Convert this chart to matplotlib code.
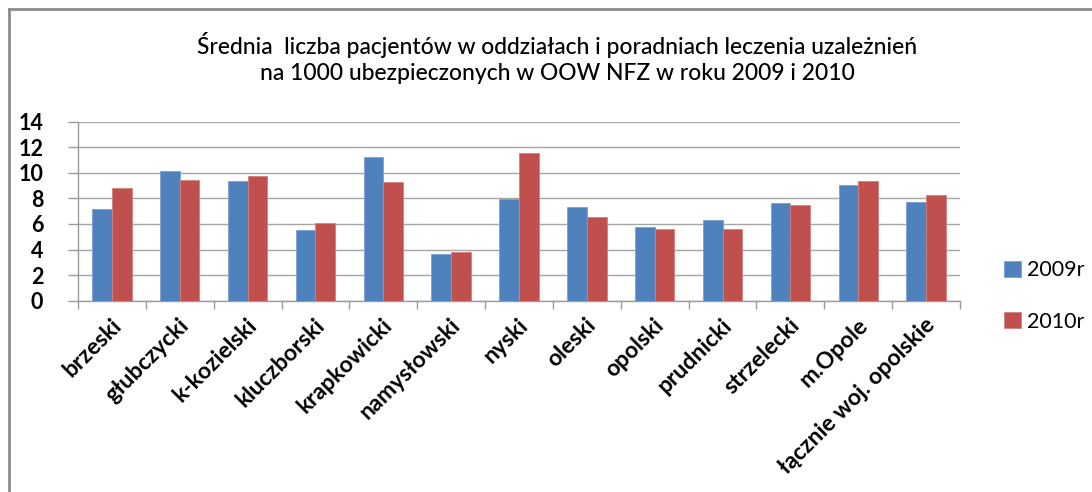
import matplotlib
matplotlib.use("Agg")
import matplotlib.pyplot as plt
import numpy as np
from matplotlib.lines import Line2D
import matplotlib.transforms as mtransforms

categories = ["brzeski", "głubczycki", "k-kozielski", "kluczborski", "krapkowicki",
              "namysłowski", "nyski", "oleski", "opolski", "prudnicki", "strzelecki",
              "m.Opole", "łącznie woj. opolskie"]
values_2009 = [7.15, 10.12, 9.33, 5.53, 11.24, 3.63, 7.97, 7.33, 5.74, 6.33, 7.62, 9.02, 7.74]
values_2010 = [8.84, 9.44, 9.73, 6.10, 9.26, 3.81, 11.52, 6.52, 5.63, 5.63, 7.51, 9.33, 8.24]
series_labels = ["2009r", "2010r"]
title = ("Średnia  liczba pacjentów w oddziałach i poradniach leczenia uzależnień\n"
         "na 1000 ubezpieczonych w OOW NFZ w roku 2009 i 2010")

plt.rcParams['font.family'] = ['Lato', 'DejaVu Sans']

W, H = 1092, 492
fig = plt.figure(figsize=(W / 100, H / 100), dpi=100)
ax = fig.add_axes([78 / W, 1 - 300.7 / H, (960 - 78) / W, (300.7 - 121.7) / H])

x = np.arange(len(categories))
bw = 0.29
blue = "#4F81BD"
red = "#C0504D"
ax.bar(x - bw / 2, values_2009, bw, color=blue, edgecolor="#7B9FD0", linewidth=0.6,
       label=series_labels[0], zorder=3)
ax.bar(x + bw / 2, values_2010, bw, color=red, edgecolor="#D47F7C", linewidth=0.6,
       label=series_labels[1], zorder=3)

ax.set_xlim(-0.5, len(categories) - 0.5)
ax.set_ylim(0, 14)
ax.set_yticks(np.arange(0, 15, 2))
ax.yaxis.grid(True, color="#A6A6A6", linewidth=1.0, zorder=0)
ax.set_axisbelow(True)
for s in ["top", "right"]:
    ax.spines[s].set_visible(False)
for s in ["left", "bottom"]:
    ax.spines[s].set_color("#9A9A9A")
    ax.spines[s].set_linewidth(1.0)

ax.tick_params(axis="y", length=7, color="#9A9A9A", width=1, pad=18, labelsize=15.5)
for lab in ax.get_yticklabels():
    lab.set_fontweight("bold")

# category tick marks between groups
ax.set_xticks(np.arange(-0.5, len(categories), 1.0))
ax.set_xticklabels([])
ax.tick_params(axis="x", length=6, color="#9A9A9A", width=1)

# rotated category labels
for i, c in enumerate(categories):
    tr = ax.get_xaxis_transform() + mtransforms.ScaledTranslation(6 / 100, -21 / 100, fig.dpi_scale_trans)
    ax.text(i, 0, c, transform=tr, rotation=45, rotation_mode="anchor",
            ha="right", va="center", fontsize=16.5, fontweight="bold", color="black")

fig.text(557 / W, 1 - 58 / H, title, ha="center", va="center", fontsize=16.5,
         fontweight=500, linespacing=1.25, color="black")

handles, labels = ax.get_legend_handles_labels()
leg = fig.legend(handles, labels, loc="center left",
                 bbox_to_anchor=(985 / W, 1 - 296 / H), frameon=False,
                 fontsize=15.5, handlelength=0.75, handleheight=0.75,
                 handletextpad=0.3, labelspacing=1.45)

# outer frame (left and top)
fig.add_artist(Line2D([9 / W, 9 / W], [0, 1 - 9 / H], transform=fig.transFigure,
                      color="#8C8C8C", linewidth=2))
fig.add_artist(Line2D([9 / W, 1], [1 - 9 / H, 1 - 9 / H], transform=fig.transFigure,
                      color="#8C8C8C", linewidth=2))

fig.savefig("out.png", dpi=100)
